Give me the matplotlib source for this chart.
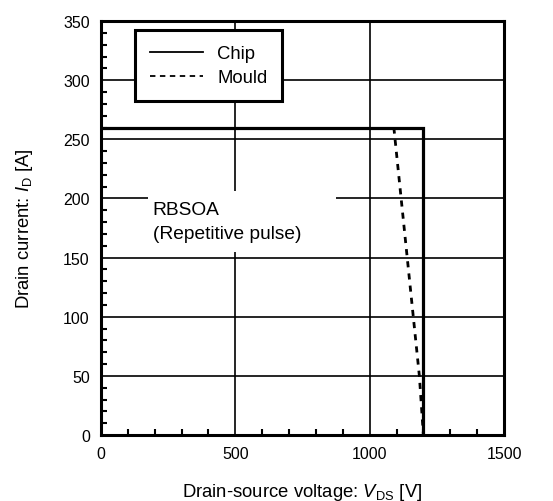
import numpy as np
import matplotlib
matplotlib.use("Agg")
import matplotlib.pyplot as plt
from matplotlib.lines import Line2D
from matplotlib.patches import Rectangle
from matplotlib.ticker import MultipleLocator

plt.rcParams['font.family'] = ['Liberation Sans', 'DejaVu Sans']
plt.rcParams['mathtext.fontset'] = 'custom'
plt.rcParams['mathtext.rm'] = 'Liberation Sans'
plt.rcParams['mathtext.it'] = 'Liberation Sans:italic'

# RBSOA boundaries
chip_v = [0, 1200, 1200]
chip_i = [260, 260, 0]
mould_v = [1090, 1185, 1200]
mould_i = [260, 50, 0]

xticks = [0, 500, 1000, 1500]
yticks = [0, 50, 100, 150, 200, 250, 300, 350]

fig = plt.figure(figsize=(5.53, 5.02), dpi=100)
ax = fig.add_axes([0.1826, 0.1315, 0.7288, 0.8245])

ax.set_xlim(0, 1500)
ax.set_ylim(0, 350)
ax.set_xticks(xticks)
ax.set_yticks(yticks)
ax.xaxis.set_minor_locator(MultipleLocator(100))
ax.yaxis.set_minor_locator(MultipleLocator(10))
ax.tick_params(which='major', length=0, labelsize=11.5, pad=8)
ax.tick_params(which='minor', direction='in', length=4, width=1.5)
ax.grid(True, which='major', color='black', lw=1.2, zorder=1)
ax.set_axisbelow(True)
for s in ax.spines.values():
    s.set_linewidth(2.2)
    s.set_zorder(5)

ax.plot(chip_v, chip_i, color='black', lw=2.3, zorder=4, solid_joinstyle='miter')
ax.plot(mould_v, mould_i, color='black', lw=2.0, ls=(0, (2.2, 2.2)), zorder=4)

# blank area behind the annotation
ax.add_patch(Rectangle((175, 155), 700, 51, facecolor='white', edgecolor='none', zorder=2))
ax.text(193, 198, "RBSOA\n(Repetitive pulse)", fontsize=13.8, va='top', ha='left',
        linespacing=1.55, zorder=3)

handles = [Line2D([], [], color='black', lw=1.3),
           Line2D([], [], color='black', lw=1.3, ls=(0, (3, 2.5)))]
leg = ax.legend(handles, ["Chip", "Mould"], loc='upper left', bbox_to_anchor=(0.084, 0.978),
                borderaxespad=0, fontsize=13.3, fancybox=False, framealpha=1, edgecolor='black',
                handlelength=2.9, borderpad=0.8, labelspacing=0.38, handletextpad=0.75)
leg.get_frame().set_linewidth(2.2)
leg.set_zorder(6)

ax.set_xlabel(r"Drain-source voltage: $\mathit{V}_{\mathrm{DS}}$ [V]", fontsize=13.3, labelpad=14)
ax.set_ylabel(r"Drain current: $\mathit{I}_{\mathrm{D}}$ [A]", fontsize=13.3, labelpad=20)

# test conditions line above the plot (mostly outside the canvas)
fig.text(0.11, 0.995, r"$\mathit{V}_{\mathrm{DS}}$ = 800 V,   $\mathit{R}_{\mathrm{G(on)}}$ = 0 Ω,   "
         r"$\mathit{R}_{\mathrm{G(off)}}$ = 0 Ω,   $\mathit{T}_{\mathrm{j}}$ = 25 °C",
         fontsize=12, va='bottom', ha='left')

fig.savefig("out.png", dpi=100)
